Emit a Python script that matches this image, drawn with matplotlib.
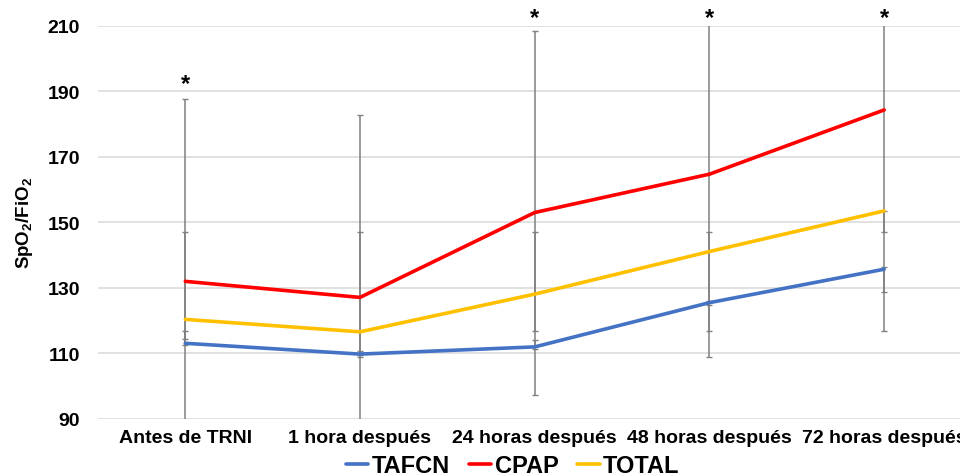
import matplotlib
matplotlib.use('Agg')
from matplotlib import pyplot as plt
import numpy as np

plt.rcParams['font.family'] = ['Liberation Sans', 'DejaVu Sans']
plt.rcParams['mathtext.fontset'] = 'custom'
plt.rcParams['mathtext.rm'] = 'Liberation Sans:bold'
plt.rcParams['mathtext.bf'] = 'Liberation Sans:bold'

categories = ['Antes de TRNI', '1 hora después', '24 horas después',
              '48 horas después', '72 horas después']

tafcn = [113.1, 109.8, 112.0, 125.5, 135.7]
cpap = [132.0, 127.1, 153.0, 164.7, 184.3]
total = [120.4, 116.6, 128.1, 141.1, 153.5]

# error bar ends (low / high)
tafcn_lo = [112.6, 109.5, 111.3, 124.8, 116.9]
tafcn_hi = [116.9, 110.7, 114.0, 125.9, 136.3]
cpap_lo = [80.0, 80.0, 97.2, 109.0, 128.6]
cpap_hi = [187.6, 182.7, 208.3, 225.0, 240.0]
total_lo = [114.3, 109.0, 116.9, 116.7, 147.2]
total_hi = [147.2, 147.2, 147.2, 147.2, 153.5]

signif = [True, False, True, True, True]
star_y = [192.3, None, 212.6, 212.6, 212.6]

colors = {'TAFCN': '#4472C4', 'CPAP': '#FF0000', 'TOTAL': '#FFC000'}

fig = plt.figure(figsize=(9.6, 4.77), dpi=100)
ax = fig.add_axes([0.102, 0.1195, 0.91, 0.8245])

x = np.arange(len(categories))
series = [('TAFCN', tafcn, tafcn_lo, tafcn_hi),
          ('CPAP', cpap, cpap_lo, cpap_hi),
          ('TOTAL', total, total_lo, total_hi)]

for name, vals, lo, hi in series:
    vals = np.array(vals)
    err = [vals - np.array(lo), np.array(hi) - vals]
    ax.errorbar(x, vals, yerr=err, fmt='none', ecolor='#808080',
                elinewidth=1.1, capsize=2.2, capthick=1, zorder=2)

handles = []
for name, vals, lo, hi in series:
    h, = ax.plot(x, vals, color=colors[name], lw=2.6, label=name,
                 solid_capstyle='round', zorder=3)
    handles.append(h)

for i, s in enumerate(signif):
    if s:
        ax.text(x[i], star_y[i], '*', ha='center', va='center',
                fontsize=17, fontweight='bold', clip_on=False)

ax.set_xlim(-0.5, 4.5)
ax.set_ylim(90, 210)
ax.set_yticks(range(90, 211, 20))
ax.set_xticks(x)
ax.set_xticklabels(categories, fontsize=14, fontweight='bold')
for lab in ax.get_yticklabels():
    lab.set_fontsize(14)
    lab.set_fontweight('bold')
ax.tick_params(axis='both', length=0)
ax.tick_params(axis='y', pad=13)
ax.tick_params(axis='x', pad=7)
ax.grid(axis='y', color='#d9d9d9', lw=1.1)
ax.set_axisbelow(True)
for sp in ax.spines.values():
    sp.set_visible(False)

ax.set_ylabel(r'SpO$_{\mathbf{2}}$/FiO$_{\mathbf{2}}$', fontsize=13.5,
              fontweight='bold', labelpad=9)

fig.legend(handles=handles, labels=['TAFCN', 'CPAP', 'TOTAL'],
           loc='center', bbox_to_anchor=(0.534, 0.022), ncol=3,
           frameon=False, handlelength=0.95, handletextpad=0.15,
           columnspacing=0.8, prop={'size': 17, 'weight': 'bold'})

plt.savefig('out.png', dpi=100)
